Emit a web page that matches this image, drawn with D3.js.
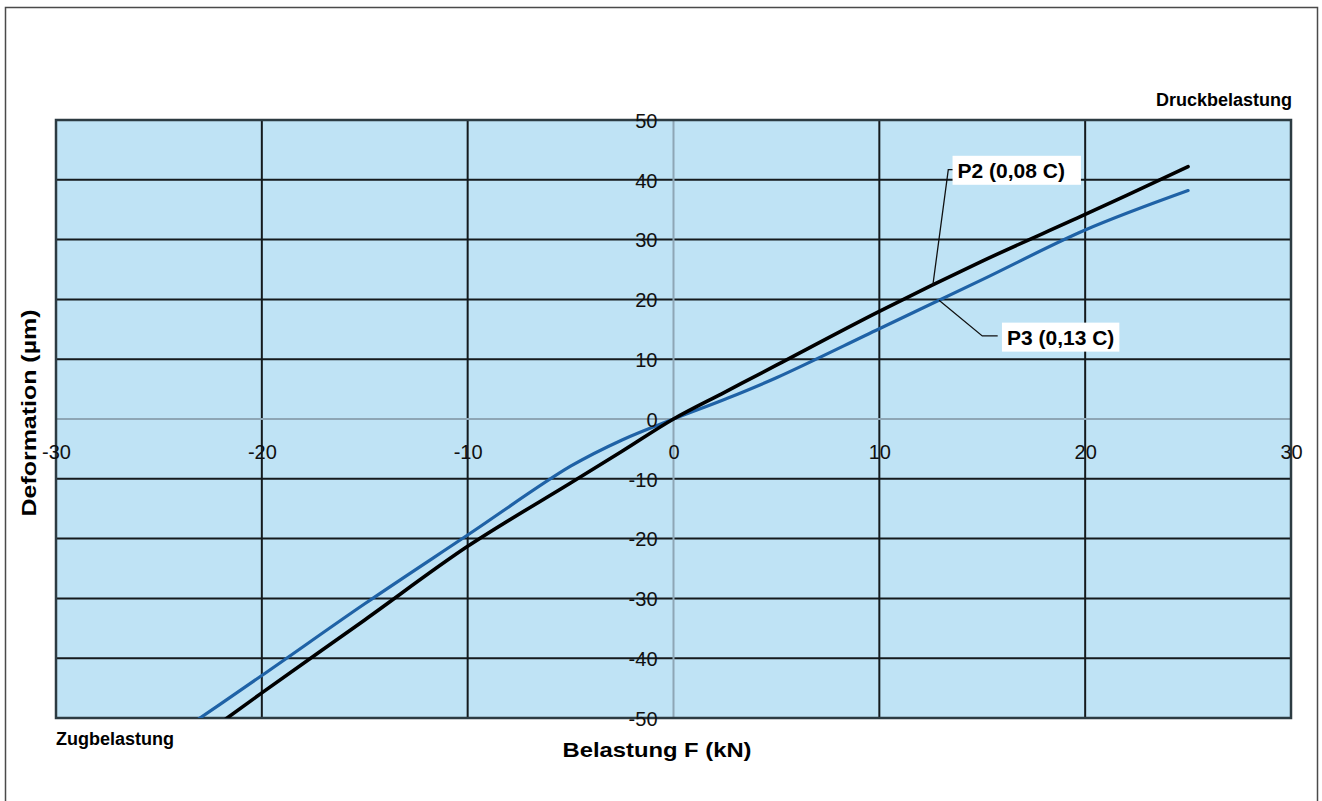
<!DOCTYPE html>
<html>
<head>
<meta charset="utf-8">
<script src="https://cdn.jsdelivr.net/npm/d3@7/dist/d3.min.js"></script>
<style>
  html, body { margin: 0; padding: 0; background: #fff; }
  svg { display: block; font-family: "Liberation Sans", Arial, Helvetica, sans-serif; }
</style>
</head>
<body>
<svg id="chart" width="1322" height="801"></svg>
<script>
// Load steps (kN) and measured deformation (µm) for both variants
const loadKN   = [-25, -20, -15, -10, -5, -2.5, 0, 2.5, 5, 10, 15, 20, 25];
const p2Deform = [-58.3, -45.8, -33.6, -21.3, -10.7, -5.4, 0, 4.5, 9.0, 18.0, 26.4, 34.2, 42.2];
const p3Deform = [-54.7, -42.9, -30.9, -19.4, -7.9, -3.5, 0, 3.3, 6.9, 15.1, 23.3, 31.6, 38.2];

const seriesNames = ["P2 (0,08 C)", "P3 (0,13 C)"];
const xTicks = [-30, -20, -10, 0, 10, 20, 30];
const yTicks = [-50, -40, -30, -20, -10, 0, 10, 20, 30, 40, 50];

const svg = d3.select("#chart");
const plot = { left: 56, right: 1291, top: 120, bottom: 718 };

const x = d3.scaleLinear().domain([-30, 30]).range([plot.left, plot.right]);
const y = d3.scaleLinear().domain([-50, 50]).range([plot.bottom, plot.top]);

// outer frame
svg.append("rect")
  .attr("x", 5.5).attr("y", 7.5)
  .attr("width", 1312).attr("height", 820)
  .attr("fill", "#fff").attr("stroke", "#4a4a4a").attr("stroke-width", 1.5);

// plot background
svg.append("rect")
  .attr("x", plot.left).attr("y", plot.top)
  .attr("width", plot.right - plot.left).attr("height", plot.bottom - plot.top)
  .attr("fill", "#bfe3f5");

// grid lines (zero lines are drawn separately as axes)
const grid = svg.append("g").attr("stroke", "#141a1d").attr("stroke-width", 2);
grid.selectAll("line.v").data(xTicks.filter(d => d !== 0 && d !== -30 && d !== 30)).join("line")
  .attr("class", "v")
  .attr("x1", d => x(d)).attr("x2", d => x(d))
  .attr("y1", plot.top).attr("y2", plot.bottom);
grid.selectAll("line.h").data(yTicks.filter(d => d !== 0 && d !== -50 && d !== 50)).join("line")
  .attr("class", "h")
  .attr("y1", d => y(d)).attr("y2", d => y(d))
  .attr("x1", plot.left).attr("x2", plot.right);

// zero axes
const zero = svg.append("g").attr("stroke", "#8ea6b5").attr("stroke-width", 2);
zero.append("line").attr("x1", x(0)).attr("x2", x(0)).attr("y1", plot.top).attr("y2", plot.bottom);
zero.append("line").attr("y1", y(0)).attr("y2", y(0)).attr("x1", plot.left).attr("x2", plot.right);

// plot border
svg.append("rect")
  .attr("x", plot.left).attr("y", plot.top)
  .attr("width", plot.right - plot.left).attr("height", plot.bottom - plot.top)
  .attr("fill", "none").attr("stroke", "#2c3b42").attr("stroke-width", 2.5);

// clip for the curves
svg.append("clipPath").attr("id", "plotClip")
  .append("rect")
  .attr("x", plot.left).attr("y", plot.top)
  .attr("width", plot.right - plot.left).attr("height", plot.bottom - plot.top);

const line = d3.line()
  .x((d, i) => x(loadKN[i]))
  .y(d => y(d))
  .curve(d3.curveCatmullRom.alpha(0.5));

const curves = svg.append("g").attr("clip-path", "url(#plotClip)").attr("fill", "none")
  .attr("stroke-linejoin", "round").attr("stroke-linecap", "round");
curves.append("path").datum(p3Deform)
  .attr("d", line).attr("stroke", "#1f62a6").attr("stroke-width", 3.2);
curves.append("path").datum(p2Deform)
  .attr("d", line).attr("stroke", "#000").attr("stroke-width", 3.6);

// tick labels via d3 axes (plain hyphen for negatives)
const fmt = d => String(d);
const yAxis = svg.append("g")
  .attr("transform", `translate(${x(0) - 16},0)`)
  .call(d3.axisLeft(y).tickValues(yTicks).tickSize(0).tickPadding(0).tickFormat(fmt));
yAxis.select(".domain").remove();
yAxis.selectAll("text")
  .attr("font-size", 20).attr("font-family", "\"Liberation Sans\", Arial, sans-serif")
  .attr("fill", "#111").attr("dy", "0.36em");

const xAxis = svg.append("g")
  .attr("transform", `translate(0,${y(0) + 33})`)
  .call(d3.axisBottom(x).tickValues(xTicks).tickSize(0).tickPadding(0).tickFormat(fmt));
xAxis.select(".domain").remove();
xAxis.selectAll("text")
  .attr("font-size", 20).attr("font-family", "\"Liberation Sans\", Arial, sans-serif")
  .attr("fill", "#111").attr("y", 0).attr("dy", "0.36em");

// axis titles
svg.append("text")
  .attr("x", 657).attr("y", 757)
  .attr("text-anchor", "middle")
  .attr("font-size", 21).attr("font-weight", "bold").attr("fill", "#000")
  .attr("textLength", 189).attr("lengthAdjust", "spacingAndGlyphs")
  .text("Belastung F (kN)");

svg.append("text")
  .attr("transform", "translate(36,413) rotate(-90)")
  .attr("text-anchor", "middle")
  .attr("font-size", 21).attr("font-weight", "bold").attr("fill", "#000")
  .attr("textLength", 207).attr("lengthAdjust", "spacingAndGlyphs")
  .text("Deformation (µm)");

// load direction labels
svg.append("text")
  .attr("x", 1292).attr("y", 106)
  .attr("text-anchor", "end")
  .attr("font-size", 18).attr("font-weight", "bold").attr("fill", "#000")
  .text("Druckbelastung");

svg.append("text")
  .attr("x", 56).attr("y", 745)
  .attr("font-size", 18).attr("font-weight", "bold").attr("fill", "#000")
  .text("Zugbelastung");

// series callouts: curve point, leader bend and label position in data units
const callouts = [
  { name: seriesNames[0], values: p2Deform, at: 12.6, bend: [13.35, 41.7], stub: [13.6, 41.7], label: [13.8, 41.6], padL: 5, padR: 16 },
  { name: seriesNames[1], values: p3Deform, at: 12.9, bend: [15.0, 13.9], stub: [15.75, 13.9], label: [16.2, 13.7], padL: 5, padR: 5 }
];

const interp = (vals, v) => {
  const i = d3.bisectRight(loadKN, v) - 1;
  const t = (v - loadKN[i]) / (loadKN[i + 1] - loadKN[i]);
  return vals[i] + t * (vals[i + 1] - vals[i]);
};

callouts.forEach(c => {
  const g = svg.append("g");
  const pts = [[x(c.at), y(interp(c.values, c.at))], [x(c.bend[0]), y(c.bend[1])], [x(c.stub[0]), y(c.stub[1])]];
  g.append("path")
    .attr("d", d3.line()(pts))
    .attr("fill", "none").attr("stroke", "#111").attr("stroke-width", 1.3);
  const box = g.append("rect").attr("fill", "#fff");
  const t = g.append("text")
    .attr("x", x(c.label[0])).attr("y", y(c.label[1]))
    .attr("dy", "0.36em")
    .attr("font-size", 21).attr("font-weight", "bold").attr("fill", "#000")
    .text(c.name);
  const bb = t.node().getBBox();
  box.attr("x", bb.x - c.padL).attr("y", bb.y - 3)
    .attr("width", bb.width + c.padL + c.padR).attr("height", bb.height + 6);
});
</script>
</body>
</html>
